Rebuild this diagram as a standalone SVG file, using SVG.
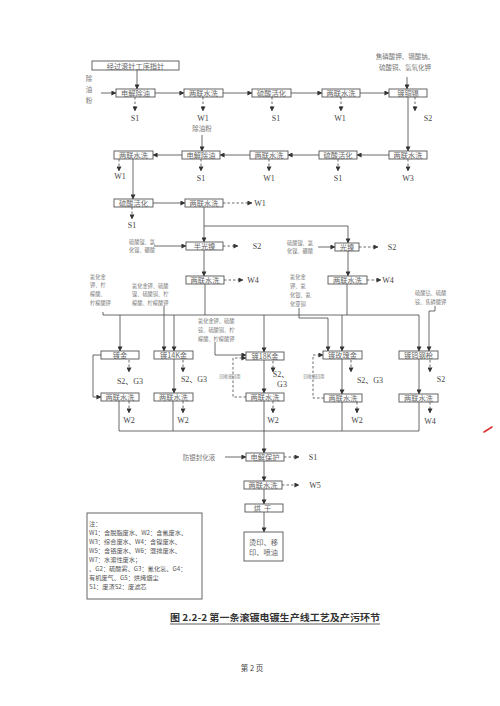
<svg xmlns="http://www.w3.org/2000/svg" width="500" height="706" viewBox="0 0 500 706">
<defs>
<marker id="ah" viewBox="0 0 6 6" refX="5.5" refY="3" markerWidth="5" markerHeight="5" orient="auto" markerUnits="userSpaceOnUse"><path d="M0,0 L6,3 L0,6 z" fill="#333"/></marker>
<style>
.box{fill:#fff;stroke:#555;stroke-width:0.9}
.t{font-family:"Noto Sans CJK SC","Noto Sans CJK JP",sans-serif;font-size:7.2px;fill:#666;text-anchor:middle}
.s{font-family:"Noto Sans CJK SC",sans-serif;font-size:5.2px;fill:#777}
.c{font-family:"Noto Sans CJK SC",sans-serif;font-size:6.5px;fill:#777}
.o{font-family:"Liberation Serif","Noto Sans CJK SC",serif;font-size:8px;fill:#444;text-anchor:middle}
.l{font-family:"Noto Sans CJK SC","Liberation Sans",sans-serif;font-size:6.2px;fill:#555}
.ln{stroke:#444;stroke-width:0.8;fill:none}
.a{marker-end:url(#ah)}
.d{stroke-dasharray:2.5 2}
</style>
</defs>
<rect width="500" height="706" fill="#fff"/>

<g id="connectors">
<path class="ln a" d="M101,93 H116"/>
<path class="ln a" d="M137,69 V89"/>
<path class="ln a" d="M155,93 H184"/>
<path class="ln a" d="M223,93 H252"/>
<path class="ln a" d="M291,93 H322"/>
<path class="ln a" d="M360,93 H389"/>
<path class="ln a" d="M407,77 V89"/>
<path class="ln a d" d="M135,97 V111"/>
<path class="ln a d" d="M203,97 V111"/>
<path class="ln a d" d="M272,97 V111"/>
<path class="ln a d" d="M341,97 V111"/>
<path class="ln a d" d="M415,97 V111"/>
<path class="ln a" d="M408,97 V151"/>
<path class="ln a" d="M389,155 H357"/>
<path class="ln a" d="M319,155 H288"/>
<path class="ln a" d="M250,155 H220"/>
<path class="ln a" d="M182,155 H153"/>
<path class="ln a" d="M202,135 V151"/>
<path class="ln a d" d="M408,159 V171"/>
<path class="ln a d" d="M338,159 V171"/>
<path class="ln a d" d="M269,159 V171"/>
<path class="ln a d" d="M201,159 V171"/>
<path class="ln a d" d="M119,159 V171"/>
<path class="ln a" d="M133,159 V199"/>
<path class="ln a" d="M153,203 H185"/>
<path class="ln a d" d="M132,207 V219"/>
<path class="ln a d" d="M223,203 H252"/>
<path class="ln a" d="M204,207 V242"/>
<path class="ln a" d="M204,226 H348 V243"/>
<path class="ln a" d="M154,246 H186"/>
<path class="ln a d" d="M223,246 H238"/>
<path class="ln a" d="M318,247 H335"/>
<path class="ln a d" d="M359,247 H378"/>
<path class="ln a" d="M204,250 V276"/>
<path class="ln a" d="M348,251 V276"/>
<path class="ln a d" d="M224,280 H243"/>
<path class="ln a d" d="M367,280 H381"/>
<path class="ln" d="M205,284 V315"/>
<path class="ln" d="M347,284 V315"/>
<path class="ln" d="M103,312 V315 H419"/>
<path class="ln a" d="M120,315 V351"/>
<path class="ln a" d="M174,315 V351"/>
<path class="ln a" d="M264,315 V352"/>
<path class="ln a" d="M342,315 V351"/>
<path class="ln a" d="M419,315 V351"/>
<path class="ln a" d="M164,306 V351"/>
<path class="ln a" d="M215,342 V355 H246"/>
<path class="ln a" d="M299,308 V318 H328 V351"/>
<path class="ln a" d="M435,306 V311 H429 V351"/>
<path class="ln a d" d="M129,360 V372"/>
<path class="ln a d" d="M183,360 V372"/>
<path class="ln a d" d="M273,361 V372"/>
<path class="ln a d" d="M351,360 V372"/>
<path class="ln a d" d="M430,360 V372"/>
<path class="ln a" d="M101,355 H93 V397 H101"/>
<path class="ln a" d="M174,359 V393"/>
<path class="ln a" d="M264,360 V393"/>
<path class="ln a" d="M342,359 V394"/>
<path class="ln a" d="M419,359 V394"/>
<path class="ln a d" d="M246,397 H233 V358 H246"/>
<path class="ln a d" d="M324,398 H313 V355 H323"/>
<path class="ln a d" d="M129,401 V413"/>
<path class="ln a d" d="M183,401 V413"/>
<path class="ln a d" d="M273,401 V413"/>
<path class="ln a d" d="M357,402 V413"/>
<path class="ln a d" d="M430,402 V413"/>
<path class="ln" d="M119,401 V431 H419"/>
<path class="ln" d="M173,401 V431"/>
<path class="ln" d="M342,402 V431"/>
<path class="ln" d="M419,402 V431"/>
<path class="ln a" d="M264,401 V453"/>
<path class="ln a" d="M225,457 H246"/>
<path class="ln a d" d="M284,457 H299"/>
<path class="ln a" d="M264,461 V481"/>
<path class="ln a d" d="M282,485 H299"/>
<path class="ln a" d="M264,489 V504"/>
<path class="ln a" d="M264,512 V532"/>
</g>

<g id="n-top"><rect class="box" x="92" y="61" width="87" height="9"/><text class="t" x="135.5" y="68.5">经过滚针工序指针</text></g>
<g id="n-chem0"><text class="c" x="89" y="81" text-anchor="middle">除</text><text class="c" x="89" y="92" text-anchor="middle">油</text><text class="c" x="89" y="103" text-anchor="middle">粉</text></g>
<g id="n-r1a"><rect class="box" x="116" y="89" width="39" height="8"/><text class="t" x="135.5" y="95.8">电解除油</text></g>
<g id="n-r1b"><rect class="box" x="184" y="89" width="39" height="8"/><text class="t" x="203.5" y="95.8">两联水洗</text></g>
<g id="n-r1c"><rect class="box" x="252" y="89" width="39" height="8"/><text class="t" x="271.5" y="95.8">硫酸活化</text></g>
<g id="n-r1d"><rect class="box" x="322" y="89" width="38" height="8"/><text class="t" x="341" y="95.8">两联水洗</text></g>
<g id="n-r1e"><rect class="box" x="389" y="89" width="38" height="8"/><text class="t" x="408" y="95.8">镀铜锡</text></g>
<g id="n-chem1"><text class="c" x="405" y="59" text-anchor="middle">焦磷酸钾、锡酸钠、</text><text class="c" x="405" y="70" text-anchor="middle">硫酸铜、氢氧化钾</text></g>
<g id="o-r1"><text class="o" x="135" y="121">S1</text><text class="o" x="203" y="121">W1</text><text class="o" x="276" y="121">S1</text><text class="o" x="340" y="121">W1</text><text class="o" x="428" y="121">S2</text></g>

<g id="n-r2a"><rect class="box" x="389" y="151" width="38" height="8"/><text class="t" x="408" y="157.8">两联水洗</text></g>
<g id="n-r2b"><rect class="box" x="319" y="151" width="38" height="8"/><text class="t" x="338" y="157.8">硫酸活化</text></g>
<g id="n-r2c"><rect class="box" x="250" y="151" width="38" height="8"/><text class="t" x="269" y="157.8">两联水洗</text></g>
<g id="n-r2d"><rect class="box" x="182" y="151" width="38" height="8"/><text class="t" x="201" y="157.8">电解除油</text></g>
<g id="n-r2e"><rect class="box" x="114" y="151" width="39" height="8"/><text class="t" x="133.5" y="157.8">两联水洗</text></g>
<g id="n-chem2"><text class="c" x="202" y="131" text-anchor="middle">除油粉</text></g>
<g id="o-r2"><text class="o" x="408" y="181">W3</text><text class="o" x="338" y="181">S1</text><text class="o" x="269" y="181">W1</text><text class="o" x="201" y="181">S1</text><text class="o" x="120" y="179">W1</text></g>

<g id="n-r3a"><rect class="box" x="114" y="199" width="39" height="8"/><text class="t" x="133.5" y="205.8">硫酸活化</text></g>
<g id="n-r3b"><rect class="box" x="185" y="199" width="38" height="8"/><text class="t" x="204" y="205.8">两联水洗</text></g>
<g id="o-r3"><text class="o" x="132" y="228">S1</text><text class="o" x="260" y="206">W1</text></g>

<g id="n-r4a"><rect class="box" x="186" y="242" width="37" height="8"/><text class="t" x="204.5" y="248.8">半光镍</text></g>
<g id="n-r4b"><rect class="box" x="335" y="243" width="24" height="8"/><text class="t" x="347" y="249.8">光镍</text></g>
<g id="n-chem3"><text class="s" x="129" y="244">硫酸镍、氯</text><text class="s" x="129" y="252">化镍、硼酸</text></g>
<g id="n-chem4"><text class="s" x="287" y="245">硫酸镍、氯</text><text class="s" x="287" y="253">化镍、硼酸</text></g>
<g id="o-r4"><text class="o" x="257" y="249">S2</text><text class="o" x="392" y="250">S2</text></g>

<g id="n-r5a"><rect class="box" x="186" y="276" width="38" height="8"/><text class="t" x="205" y="282.8">两联水洗</text></g>
<g id="n-r5b"><rect class="box" x="328" y="276" width="39" height="8"/><text class="t" x="347.5" y="282.8">两联水洗</text></g>
<g id="o-r5"><text class="o" x="253" y="283">W4</text><text class="o" x="388" y="283">W4</text></g>

<g id="n-chem5"><text class="s" x="90" y="279">氰化金</text><text class="s" x="90" y="287">钾、柠</text><text class="s" x="90" y="296">檬酸、</text><text class="s" x="90" y="305">柠檬酸钾</text></g>
<g id="n-chem6"><text class="s" x="132" y="288">氰化金钾、硫酸</text><text class="s" x="132" y="296">镍、硫酸铜、柠</text><text class="s" x="132" y="305">檬酸、柠檬酸钾</text></g>
<g id="n-chem7"><text class="s" x="198" y="323">氰化金钾、硫酸</text><text class="s" x="198" y="332">铵、硫酸铜、柠</text><text class="s" x="198" y="341">檬酸、柠檬酸钾</text></g>
<g id="n-chem8"><text class="s" x="290" y="279">氰化金</text><text class="s" x="290" y="288">钾、氰</text><text class="s" x="290" y="297">化银、氰</text><text class="s" x="290" y="306">化亚铜</text></g>
<g id="n-chem9"><text class="s" x="415" y="295">硫酸钴、硫酸</text><text class="s" x="415" y="304">铵、焦磷酸钾</text></g>

<g id="n-p1"><rect class="box" x="101" y="351" width="38" height="8"/><text class="t" x="120" y="357.8">镀金</text></g>
<g id="n-p2"><rect class="box" x="154" y="351" width="39" height="8"/><text class="t" x="173.5" y="357.8">镀14K金</text></g>
<g id="n-p3"><rect class="box" x="246" y="352" width="38" height="8"/><text class="t" x="265" y="358.8">镀18K金</text></g>
<g id="n-p4"><rect class="box" x="323" y="351" width="39" height="8"/><text class="t" x="342.5" y="357.8">镀玫瑰金</text></g>
<g id="n-p5"><rect class="box" x="399" y="351" width="39" height="8"/><text class="t" x="418.5" y="357.8">镀钨钢枪</text></g>
<g id="o-p"><text class="o" x="130" y="384">S2、G3</text><text class="o" x="194" y="382">S2、G3</text><text class="o" x="281" y="377">S2、</text><text class="o" x="282" y="387">G3</text><text class="o" x="370" y="383">S2、G3</text><text class="o" x="441" y="382">S2</text></g>
<g id="n-rec"><text class="s" x="230" y="378" text-anchor="middle" style="font-size:4.2px">回收液回用</text><text class="s" x="314" y="378" text-anchor="middle" style="font-size:4.2px">回收液回用</text></g>

<g id="n-w1"><rect class="box" x="101" y="393" width="38" height="8"/><text class="t" x="120" y="399.8">两联水洗</text></g>
<g id="n-w2"><rect class="box" x="154" y="393" width="39" height="8"/><text class="t" x="173.5" y="399.8">两联水洗</text></g>
<g id="n-w3"><rect class="box" x="246" y="393" width="38" height="8"/><text class="t" x="265" y="399.8">两联水洗</text></g>
<g id="n-w4"><rect class="box" x="324" y="394" width="38" height="8"/><text class="t" x="343" y="400.8">两联水洗</text></g>
<g id="n-w5"><rect class="box" x="399" y="394" width="39" height="8"/><text class="t" x="418.5" y="400.8">两联水洗</text></g>
<g id="o-w"><text class="o" x="129" y="423">W2</text><text class="o" x="183" y="423">W2</text><text class="o" x="273" y="423">W2</text><text class="o" x="357" y="423">W2</text><text class="o" x="430" y="424">W4</text></g>

<g id="n-b1"><rect class="box" x="246" y="453" width="38" height="8"/><text class="t" x="265" y="459.8">电解保护</text></g>
<g id="n-chem10"><text class="c" x="199" y="460" text-anchor="middle">防银封化液</text></g>
<g id="n-b2"><rect class="box" x="244" y="481" width="38" height="8"/><text class="t" x="263" y="487.8">两联水洗</text></g>
<g id="n-b3"><rect class="box" x="245" y="504" width="38" height="8"/><text class="t" x="264" y="510.8" letter-spacing="3">烘干</text></g>
<g id="n-b4"><rect class="box" x="244" y="532" width="39" height="29"/><text class="t" x="263.5" y="545">烫印、移</text><text class="t" x="263.5" y="555">印、喷油</text></g>
<g id="o-b"><text class="o" x="313" y="460">S1</text><text class="o" x="315" y="488">W5</text></g>

<g id="legend">
<rect x="87" y="513" width="115" height="86" fill="#fff" stroke="#555" stroke-width="0.9"/>
<text class="l" x="89" y="526">注：</text>
<text class="l" x="89" y="535">W1：含脱脂废水、W2：含氰废水、</text>
<text class="l" x="89" y="544">W3：综合废水、W4：含镍废水、</text>
<text class="l" x="89" y="553">W5：含铬废水、W6：混排废水、</text>
<text class="l" x="89" y="562">W7：水溶性废水；</text>
<text class="l" x="89" y="571">、G2：硫酸雾、G3：氰化氢、G4：</text>
<text class="l" x="89" y="580">有机废气、G5：烘烤烟尘</text>
<text class="l" x="89" y="589">S1：废渣S2：废滤芯</text>
</g>

<g id="caption">
<text x="170" y="621" font-family="Noto Sans CJK SC,sans-serif" font-size="9.5" font-weight="bold" fill="#333" textLength="210" lengthAdjust="spacingAndGlyphs">图 2.2-2  第一条滚镀电镀生产线工艺及产污环节</text>
<line x1="170" y1="624" x2="380" y2="624" stroke="#333" stroke-width="0.8"/>
<text x="252" y="671" font-family="Noto Sans CJK SC,sans-serif" font-size="7.5" fill="#444" text-anchor="middle">第 2 页</text>
</g>

<g id="marks" stroke="#d33" stroke-width="1.6" fill="none" stroke-linecap="round">
<path d="M484,432 L492,427"/>
</g>
</svg>
